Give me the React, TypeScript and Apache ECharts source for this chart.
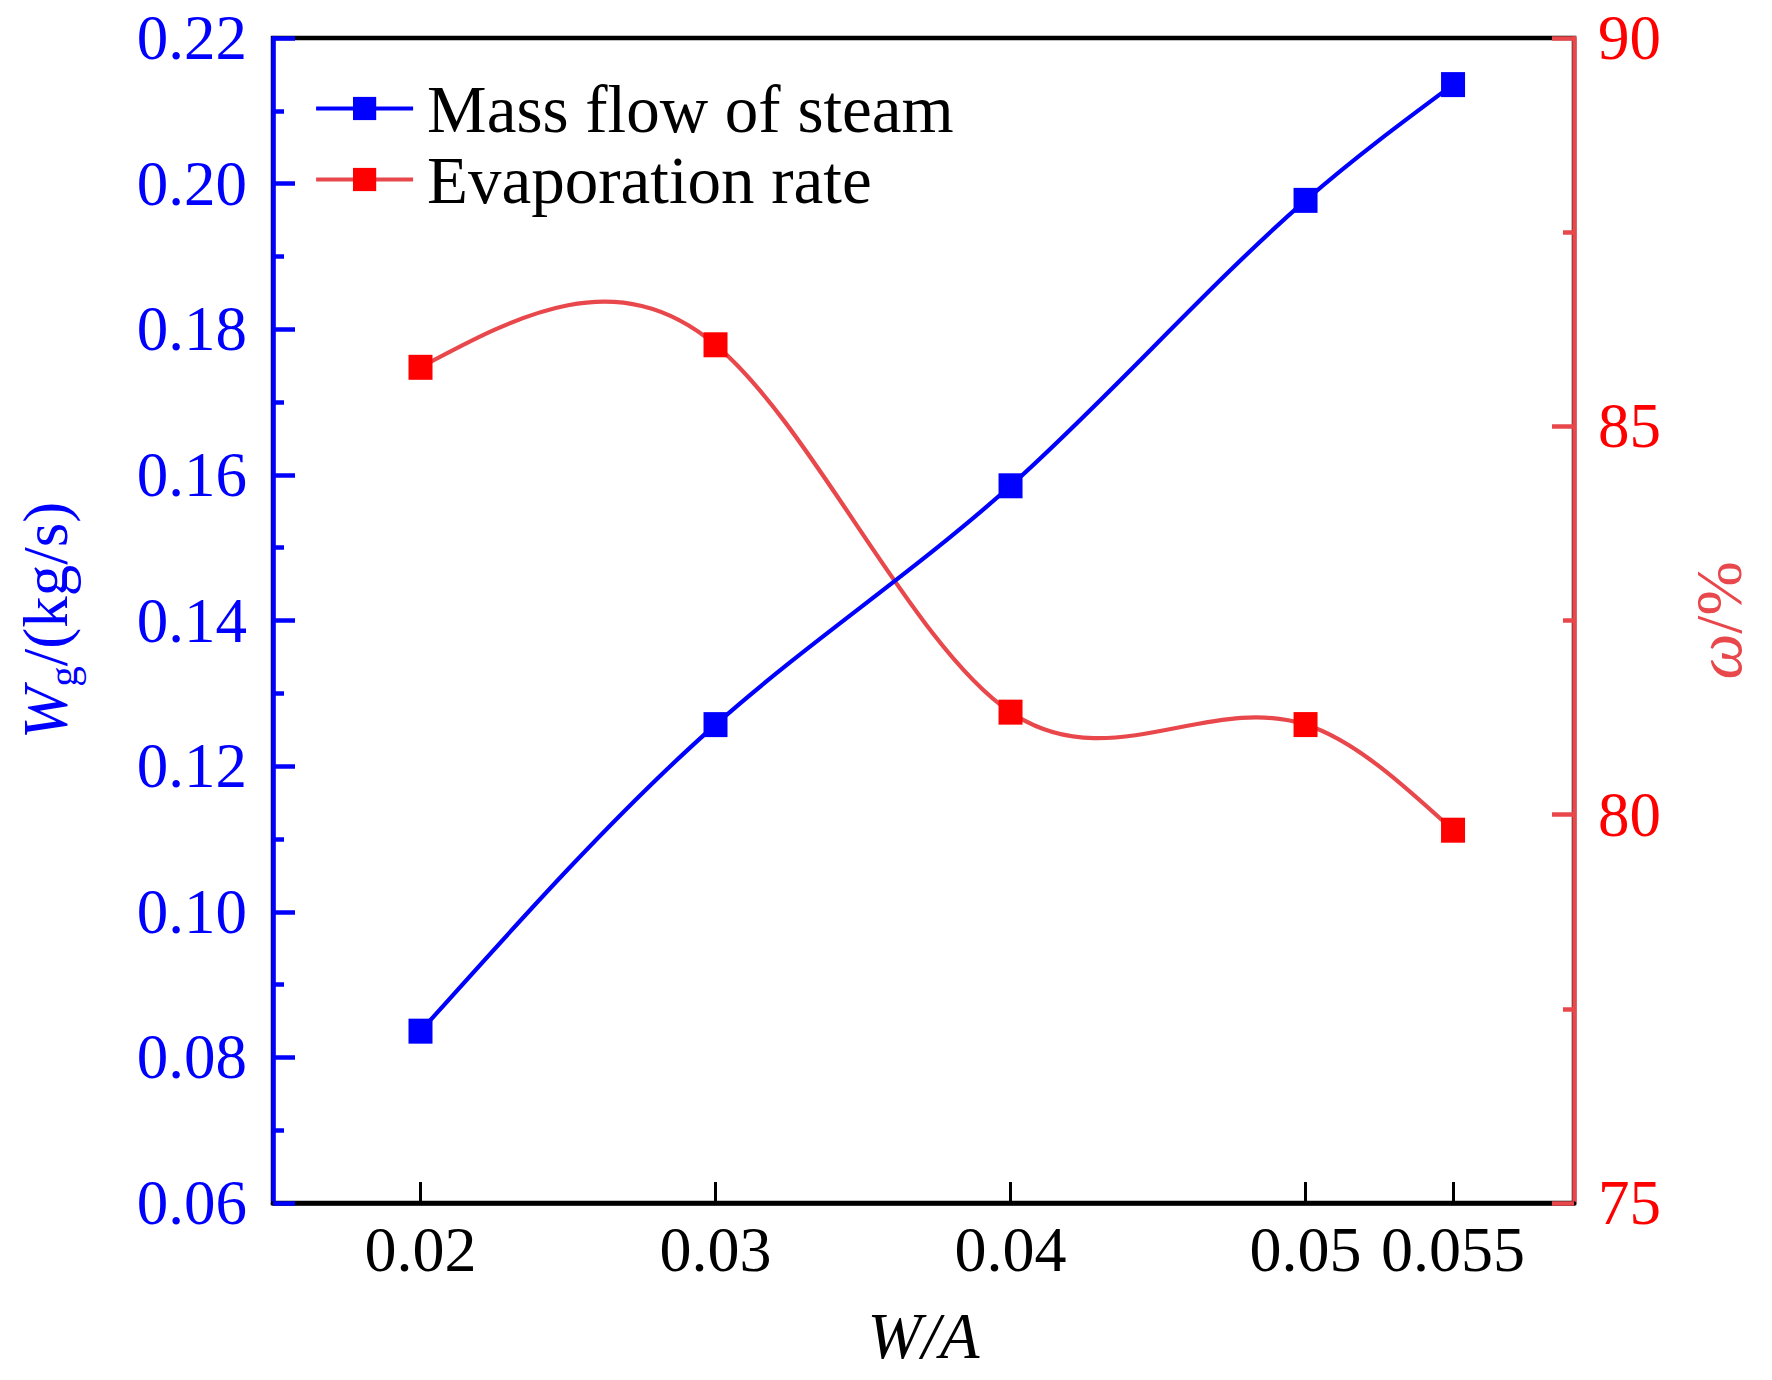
import React, { useEffect, useRef } from "react";
import * as echarts from "echarts";

const xValues = [0.02, 0.03, 0.04, 0.05, 0.055];
const massFlow = [0.0836, 0.1257, 0.1585, 0.1977, 0.2136];
const evapRate = [85.76, 86.05, 81.32, 81.16, 79.8];
const xTickValues = [0.02, 0.03, 0.04, 0.05, 0.055];
const seriesNames = ["Mass flow of steam", "Evaporation rate"];

const FONT = '"Liberation Serif", "Times New Roman", serif';
const BLUE = "#0000FF";
const RED = "#FF0000";
const RED_LINE = "#E8474B";
const LINE_W = 4.2;

// Natural cubic spline through the data points, returned as cubic Bezier
// segments in data space (drawn through the axes with api.coord).
function splineSegments(xs: number[], ys: number[]): number[][][] {
  const n = xs.length;
  const h: number[] = [];
  for (let i = 0; i < n - 1; i++) h.push(xs[i + 1] - xs[i]);
  const M = new Array(n).fill(0);
  const m = n - 2;
  if (m > 0) {
    const cp: number[] = [];
    const dp: number[] = [];
    for (let k = 0; k < m; k++) {
      const i = k + 1;
      const a = h[i - 1];
      const b = 2 * (h[i - 1] + h[i]);
      const c = h[i];
      const d = 6 * ((ys[i + 1] - ys[i]) / h[i] - (ys[i] - ys[i - 1]) / h[i - 1]);
      if (k === 0) {
        cp.push(c / b);
        dp.push(d / b);
      } else {
        const den = b - a * cp[k - 1];
        cp.push(c / den);
        dp.push((d - a * dp[k - 1]) / den);
      }
    }
    M[m] = dp[m - 1];
    for (let k = m - 2; k >= 0; k--) M[k + 1] = dp[k] - cp[k] * M[k + 2];
  }
  const segs: number[][][] = [];
  for (let i = 0; i < n - 1; i++) {
    const hi = h[i];
    const slope = (ys[i + 1] - ys[i]) / hi;
    const s0 = slope - (hi * (2 * M[i] + M[i + 1])) / 6;
    const s1 = slope + (hi * (M[i] + 2 * M[i + 1])) / 6;
    segs.push([
      [xs[i], ys[i]],
      [xs[i] + hi / 3, ys[i] + (s0 * hi) / 3],
      [xs[i + 1] - hi / 3, ys[i + 1] - (s1 * hi) / 3],
      [xs[i + 1], ys[i + 1]],
    ]);
  }
  return segs;
}

function curveSeries(ys: number[], yAxisIndex: number, color: string) {
  return {
    type: "custom",
    yAxisIndex,
    silent: true,
    z: 2,
    data: xValues.map((x, i) => [x, ys[i]]),
    renderItem: (params: any, api: any) => {
      if (params.dataIndex !== 0) return null;
      const segs = splineSegments(xValues, ys);
      return {
        type: "group",
        children: segs.map((s) => {
          const p0 = api.coord(s[0]);
          const c1 = api.coord(s[1]);
          const c2 = api.coord(s[2]);
          const p1 = api.coord(s[3]);
          return {
            type: "bezierCurve",
            shape: {
              x1: p0[0], y1: p0[1],
              cpx1: c1[0], cpy1: c1[1],
              cpx2: c2[0], cpy2: c2[1],
              x2: p1[0], y2: p1[1],
            },
            style: { stroke: color, lineWidth: LINE_W, fill: "none", lineCap: "round" },
          };
        }),
      };
    },
  };
}

export default function App() {
  const ref = useRef<HTMLDivElement>(null);
  useEffect(() => {
    document.body.style.margin = "0";
    if (!ref.current) return;
    const chart = echarts.init(ref.current, null, { renderer: "svg" });
    const option: any = {
      animation: false,
      backgroundColor: "#ffffff",
      grid: {
        left: 273,
        right: 198,
        top: 38,
        bottom: 177,
        show: true,
        borderColor: "#000",
        borderWidth: 4.5,
        containLabel: false,
      },
      legend: {
        orient: "vertical",
        left: 314,
        top: 73,
        padding: 0,
        itemGap: 0,
        itemWidth: 97,
        itemHeight: 29,
        data: seriesNames,
        lineStyle: { width: LINE_W, opacity: 1 },
        textStyle: {
          fontFamily: FONT,
          fontSize: 67,
          color: "#000",
          lineHeight: 71,
          padding: [0, 0, 0, 9],
        },
      },
      xAxis: {
        type: "value",
        min: 0.015,
        max: 0.0591,
        name: "W/A",
        nameLocation: "middle",
        nameGap: 100,
        nameTextStyle: {
          fontFamily: FONT,
          fontSize: 65,
          fontStyle: "italic",
          color: "#000",
        },
        axisLine: { show: true, lineStyle: { color: "#000", width: 4.5 } },
        axisTick: {
          show: true,
          inside: true,
          length: 21,
          customValues: xTickValues,
          lineStyle: { color: "#000", width: 3 },
        },
        axisLabel: {
          customValues: xTickValues,
          fontFamily: FONT,
          fontSize: 64,
          color: "#000",
          margin: 14,
          formatter: (v: number) => String(v),
        },
        splitLine: { show: false },
      },
      yAxis: [
        {
          type: "value",
          position: "left",
          min: 0.06,
          max: 0.22,
          interval: 0.02,
          name: "{i|W}{s|g}{n|/(kg/s)}",
          nameLocation: "middle",
          nameRotate: 90,
          nameGap: 190,
          nameTextStyle: {
            fontFamily: FONT,
            fontSize: 63,
            color: BLUE,
            rich: {
              i: { fontFamily: FONT, fontSize: 63, fontStyle: "italic", color: BLUE, lineHeight: 74 },
              s: { fontFamily: FONT, fontSize: 41, color: BLUE, lineHeight: 36, verticalAlign: "bottom" },
              n: { fontFamily: FONT, fontSize: 63, color: BLUE, lineHeight: 74 },
            },
          },
          axisLine: { show: true, lineStyle: { color: BLUE, width: 4.5 } },
          axisTick: { show: true, inside: true, length: 22, lineStyle: { color: BLUE, width: 4.5 } },
          minorTick: { show: true, splitNumber: 2, length: 11, lineStyle: { color: BLUE, width: 4.5 } },
          axisLabel: {
            fontFamily: FONT,
            fontSize: 63,
            color: BLUE,
            margin: 26,
            formatter: (v: number) => v.toFixed(2),
          },
          splitLine: { show: false },
        },
        {
          type: "value",
          position: "right",
          min: 75,
          max: 90,
          interval: 5,
          name: "{i|ω}{n|/%}",
          nameLocation: "middle",
          nameRotate: 90,
          nameGap: 112,
          nameTextStyle: {
            fontFamily: FONT,
            fontSize: 65,
            color: RED_LINE,
            rich: {
              i: { fontFamily: FONT, fontSize: 65, fontStyle: "italic", color: RED_LINE },
              n: { fontFamily: FONT, fontSize: 65, color: RED_LINE },
            },
          },
          axisLine: { show: true, lineStyle: { color: RED_LINE, width: 4.5 } },
          axisTick: { show: true, inside: true, length: 22, lineStyle: { color: RED_LINE, width: 4.5 } },
          minorTick: { show: true, splitNumber: 2, length: 11, lineStyle: { color: RED_LINE, width: 4.5 } },
          axisLabel: {
            fontFamily: FONT,
            fontSize: 63,
            color: RED,
            margin: 24,
          },
          splitLine: { show: false },
        },
      ],
      series: [
        curveSeries(evapRate, 1, RED_LINE),
        curveSeries(massFlow, 0, BLUE),
        {
          name: seriesNames[0],
          type: "line",
          yAxisIndex: 0,
          data: xValues.map((x, i) => [x, massFlow[i]]),
          symbol: "rect",
          symbolSize: [24, 25],
          itemStyle: { color: BLUE },
          lineStyle: { color: BLUE, width: LINE_W, opacity: 0 },
          z: 4,
        },
        {
          name: seriesNames[1],
          type: "line",
          yAxisIndex: 1,
          data: xValues.map((x, i) => [x, evapRate[i]]),
          symbol: "rect",
          symbolSize: [24, 25],
          itemStyle: { color: RED },
          lineStyle: { color: RED_LINE, width: LINE_W, opacity: 0 },
          z: 4,
        },
      ],
    };
    chart.setOption(option);
    return () => chart.dispose();
  }, []);
  return <div ref={ref} style={{ width: 1772, height: 1380 }} />;
}
